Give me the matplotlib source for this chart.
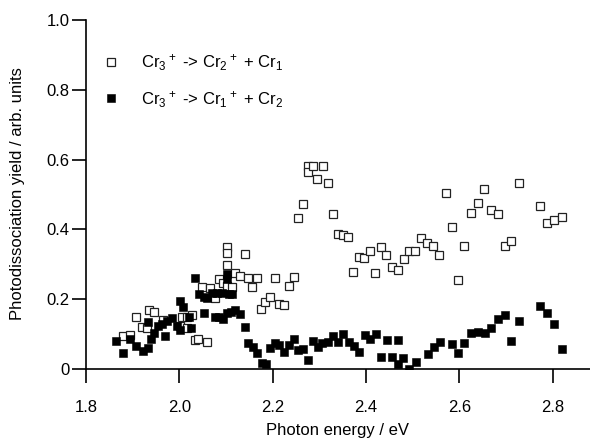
import matplotlib
matplotlib.use("Agg")
import matplotlib.pyplot as plt
import numpy as np


# Cr3+ -> Cr2+ + Cr1 (open squares)
open_energy = [
    1.879, 1.894, 1.908, 1.920, 1.931, 1.936, 1.946, 1.965, 2.001, 2.006,
    2.017, 2.017, 2.027, 2.033, 2.041, 2.059, 2.048, 2.066, 2.076, 2.084,
    2.093, 2.102, 2.102, 2.102, 2.102, 2.113, 2.120, 2.129, 2.140, 2.147,
    2.156, 2.166, 2.175, 2.184, 2.194, 2.206, 2.214, 2.225, 2.234, 2.245,
    2.254, 2.265, 2.276, 2.276, 2.287, 2.296, 2.307, 2.318, 2.329, 2.339,
    2.351, 2.362, 2.373, 2.385, 2.396, 2.409, 2.420, 2.433, 2.443, 2.455,
    2.468, 2.481, 2.493, 2.505, 2.518, 2.530, 2.544, 2.557, 2.572, 2.584,
    2.597, 2.611, 2.625, 2.640, 2.653, 2.667, 2.682, 2.697, 2.711, 2.727,
    2.772, 2.787, 2.803, 2.821,
]
open_yield = [
    0.095, 0.096, 0.150, 0.119, 0.117, 0.170, 0.162, 0.140, 0.122, 0.150,
    0.150, 0.117, 0.155, 0.083, 0.085, 0.078, 0.236, 0.231, 0.203, 0.257,
    0.247, 0.350, 0.333, 0.298, 0.238, 0.236, 0.276, 0.266, 0.330, 0.262,
    0.236, 0.262, 0.171, 0.193, 0.205, 0.261, 0.186, 0.183, 0.238, 0.264,
    0.434, 0.474, 0.582, 0.565, 0.583, 0.543, 0.582, 0.532, 0.445, 0.386,
    0.384, 0.379, 0.279, 0.322, 0.317, 0.339, 0.274, 0.350, 0.328, 0.293,
    0.284, 0.315, 0.337, 0.337, 0.374, 0.362, 0.352, 0.327, 0.503, 0.408,
    0.255, 0.352, 0.448, 0.475, 0.515, 0.456, 0.443, 0.352, 0.368, 0.534,
    0.468, 0.419, 0.427, 0.436,
]

# Cr3+ -> Cr1+ + Cr2 (filled squares)
filled_energy = [
    1.865, 1.879, 1.894, 1.908, 1.922, 1.932, 1.939, 1.932, 1.945, 1.954,
    1.963, 1.970, 1.974, 1.984, 1.994, 2.002, 2.008, 2.002, 2.020, 2.026,
    2.034, 2.043, 2.052, 2.052, 2.059, 2.070, 2.076, 2.081, 2.084, 2.091,
    2.094, 2.102, 2.102, 2.102, 2.106, 2.111, 2.113, 2.120, 2.131, 2.140,
    2.148, 2.158, 2.166, 2.177, 2.186, 2.195, 2.204, 2.214, 2.224, 2.234,
    2.245, 2.255, 2.265, 2.276, 2.287, 2.297, 2.306, 2.318, 2.329, 2.340,
    2.351, 2.363, 2.375, 2.386, 2.398, 2.409, 2.421, 2.433, 2.445, 2.455,
    2.468, 2.468, 2.480, 2.493, 2.507, 2.532, 2.545, 2.559, 2.584, 2.597,
    2.611, 2.625, 2.640, 2.654, 2.668, 2.682, 2.698, 2.711, 2.728, 2.773,
    2.788, 2.803, 2.820,
]
filled_yield = [
    0.080, 0.047, 0.085, 0.066, 0.052, 0.059, 0.085, 0.136, 0.104, 0.123,
    0.129, 0.095, 0.138, 0.145, 0.123, 0.196, 0.179, 0.112, 0.150, 0.117,
    0.262, 0.215, 0.160, 0.207, 0.203, 0.217, 0.148, 0.217, 0.148, 0.217,
    0.142, 0.272, 0.257, 0.161, 0.215, 0.164, 0.215, 0.169, 0.158, 0.119,
    0.075, 0.064, 0.045, 0.018, 0.013, 0.059, 0.074, 0.069, 0.050, 0.069,
    0.085, 0.054, 0.056, 0.025, 0.080, 0.064, 0.074, 0.077, 0.095, 0.077,
    0.099, 0.078, 0.066, 0.050, 0.097, 0.087, 0.099, 0.033, 0.084, 0.033,
    0.084, 0.014, 0.031, 0.001, 0.019, 0.043, 0.062, 0.077, 0.071, 0.047,
    0.074, 0.104, 0.107, 0.102, 0.118, 0.143, 0.156, 0.081, 0.138, 0.181,
    0.161, 0.130, 0.057,
]

x_ticks = [1.8, 2.0, 2.2, 2.4, 2.6, 2.8]
y_ticks = [0, 0.2, 0.4, 0.6, 0.8, 1.0]
y_tick_labels = ["0", "0.2", "0.4", "0.6", "0.8", "1.0"]

plt.rcParams.update({
    "font.family": ["Liberation Sans", "DejaVu Sans"],
    "font.size": 12,
    "mathtext.default": "regular",
})

fig = plt.figure(figsize=(5.9, 4.41), dpi=100)
ax = fig.add_axes([0.1458, 0.1633, 0.8542, 0.7913])

ax.plot(open_energy, open_yield, linestyle="none", marker="s", ms=5.5,
        mfc="white", mec="#222222", mew=0.9, zorder=2,
        label="Cr$_3$$^+$ -> Cr$_2$$^+$ + Cr$_1$")
ax.plot(filled_energy, filled_yield, linestyle="none", marker="s", ms=5.5,
        mfc="black", mec="black", mew=0.4, zorder=3,
        label="Cr$_3$$^+$ -> Cr$_1$$^+$ + Cr$_2$")

ax.set_xlim(1.8, 2.88)
ax.set_ylim(0, 1.0)
ax.set_xticks(x_ticks)
ax.set_xticklabels([f"{v:.1f}" for v in x_ticks])
ax.set_yticks(y_ticks)
ax.set_yticklabels(y_tick_labels)

for side in ["top", "right"]:
    ax.spines[side].set_visible(False)
for side in ["left", "bottom"]:
    ax.spines[side].set_linewidth(1.2)
ax.tick_params(axis="y", direction="out", length=10, width=1.2, labelsize=12, pad=2)
ax.tick_params(axis="x", direction="out", length=10, width=1.2, labelsize=12, pad=12)

ax.set_xlabel("Photon energy / eV", fontsize=12)
ax.set_ylabel("Photodissociation yield / arb. units", fontsize=12)
ax.xaxis.set_label_coords(0.498, -0.155)
ax.yaxis.set_label_coords(-0.122, 0.504)

leg = ax.legend(loc="upper left", bbox_to_anchor=(0.0, 0.955), frameon=False,
                fontsize=12, handlelength=1.0, handletextpad=1.3,
                labelspacing=0.95, markerscale=1.15, borderaxespad=0.6)

fig.savefig("out.png", dpi=100)
